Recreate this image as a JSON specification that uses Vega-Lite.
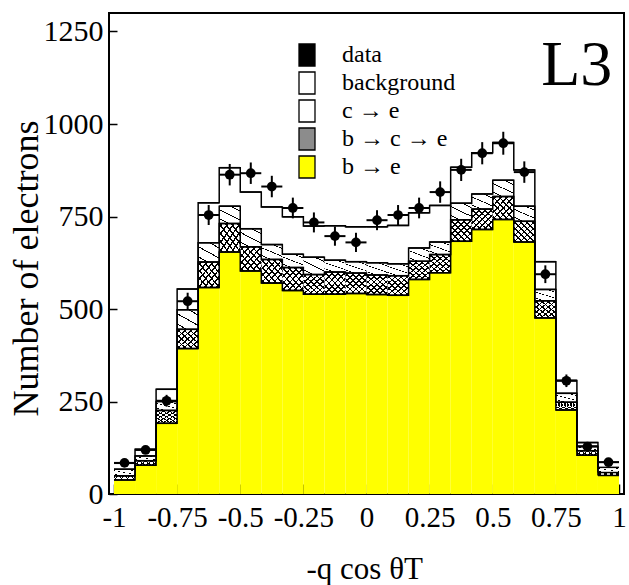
{
  "$schema": "https://vega.github.io/schema/vega-lite/v6.json",
  "width": 515,
  "height": 481,
  "autosize": "none",
  "padding": {"left": 109, "top": 13, "right": 5, "bottom": 91},
  "background": "white",
  "config": {
    "view": {"stroke": "black", "strokeWidth": 2},
    "font": "Liberation Serif",
    "axis": {"labelColor": "black", "tickColor": "black", "titleColor": "black", "labelFont": "Liberation Serif", "titleFont": "Liberation Serif", "titleFontWeight": "normal", "grid": false, "domain": false}
  },
  "title": {"text": "L3", "anchor": "end", "orient": "top", "offset": -85, "dx": -14, "fontSize": 64, "font": "Liberation Serif", "fontWeight": "normal", "color": "black"},
  "data": {"values": [
    {"x0": -1, "x1": -0.9167, "xc": -0.9583, "be": 38, "bce": 49, "ce": 67, "tot": 83, "data": 84, "lo": 75, "hi": 93},
    {"x0": -0.9167, "x1": -0.8333, "xc": -0.875, "be": 78, "bce": 90, "ce": 103, "tot": 121, "data": 119, "lo": 108, "hi": 130},
    {"x0": -0.8333, "x1": -0.75, "xc": -0.7917, "be": 191, "bce": 226, "ce": 250, "tot": 283, "data": 252, "lo": 236, "hi": 268},
    {"x0": -0.75, "x1": -0.6667, "xc": -0.7083, "be": 393, "bce": 445, "ce": 498, "tot": 554, "data": 521, "lo": 498, "hi": 544},
    {"x0": -0.6667, "x1": -0.5833, "xc": -0.625, "be": 558, "bce": 627, "ce": 679, "tot": 787, "data": 754, "lo": 727, "hi": 781},
    {"x0": -0.5833, "x1": -0.5, "xc": -0.5417, "be": 654, "bce": 731, "ce": 778, "tot": 882, "data": 863, "lo": 834, "hi": 892},
    {"x0": -0.5, "x1": -0.4167, "xc": -0.4583, "be": 603, "bce": 668, "ce": 717, "tot": 816, "data": 867, "lo": 838, "hi": 896},
    {"x0": -0.4167, "x1": -0.3333, "xc": -0.375, "be": 570, "bce": 634, "ce": 674, "tot": 776, "data": 831, "lo": 802, "hi": 860},
    {"x0": -0.3333, "x1": -0.25, "xc": -0.2917, "be": 550, "bce": 612, "ce": 648, "tot": 749, "data": 773, "lo": 745, "hi": 801},
    {"x0": -0.25, "x1": -0.1667, "xc": -0.2083, "be": 540, "bce": 593, "ce": 640, "tot": 724, "data": 734, "lo": 707, "hi": 761},
    {"x0": -0.1667, "x1": -0.0833, "xc": -0.125, "be": 540, "bce": 600, "ce": 632, "tot": 725, "data": 697, "lo": 671, "hi": 723},
    {"x0": -0.0833, "x1": 0, "xc": -0.0417, "be": 542, "bce": 597, "ce": 628, "tot": 722, "data": 680, "lo": 654, "hi": 706},
    {"x0": 0, "x1": 0.0833, "xc": 0.0417, "be": 539, "bce": 592, "ce": 625, "tot": 722, "data": 740, "lo": 713, "hi": 767},
    {"x0": 0.0833, "x1": 0.1667, "xc": 0.125, "be": 537, "bce": 590, "ce": 622, "tot": 726, "data": 754, "lo": 727, "hi": 781},
    {"x0": 0.1667, "x1": 0.25, "xc": 0.2083, "be": 580, "bce": 629, "ce": 665, "tot": 760, "data": 773, "lo": 745, "hi": 801},
    {"x0": 0.25, "x1": 0.3333, "xc": 0.2917, "be": 598, "bce": 647, "ce": 681, "tot": 780, "data": 816, "lo": 787, "hi": 845},
    {"x0": 0.3333, "x1": 0.4167, "xc": 0.375, "be": 683, "bce": 741, "ce": 786, "tot": 883, "data": 876, "lo": 846, "hi": 906},
    {"x0": 0.4167, "x1": 0.5, "xc": 0.4583, "be": 715, "bce": 770, "ce": 811, "tot": 922, "data": 921, "lo": 891, "hi": 951},
    {"x0": 0.5, "x1": 0.5833, "xc": 0.5417, "be": 742, "bce": 804, "ce": 848, "tot": 950, "data": 948, "lo": 917, "hi": 979},
    {"x0": 0.5833, "x1": 0.6667, "xc": 0.625, "be": 681, "bce": 737, "ce": 778, "tot": 876, "data": 870, "lo": 841, "hi": 899},
    {"x0": 0.6667, "x1": 0.75, "xc": 0.7083, "be": 476, "bce": 522, "ce": 553, "tot": 628, "data": 594, "lo": 570, "hi": 618},
    {"x0": 0.75, "x1": 0.8333, "xc": 0.7917, "be": 227, "bce": 248, "ce": 272, "tot": 307, "data": 306, "lo": 289, "hi": 323},
    {"x0": 0.8333, "x1": 0.9167, "xc": 0.875, "be": 105, "bce": 117, "ce": 129, "tot": 139, "data": 128, "lo": 117, "hi": 139},
    {"x0": 0.9167, "x1": 1, "xc": 0.9583, "be": 50, "bce": 58, "ce": 72, "tot": 86, "data": 86, "lo": 77, "hi": 95}
  ]},
  "layer": [
    {
      "transform": [{"fold": ["be"], "as": ["comp", "val"]}],
      "mark": {"type": "bar", "orient": "vertical"},
      "encoding": {
        "x": {"field": "x0", "type": "quantitative", "scale": {"domain": [-1, 1], "nice": false, "zero": false},
          "axis": {"values": [-1, -0.75, -0.5, -0.25, 0, 0.25, 0.5, 0.75, 1], "labelExpr": "datum.value + ''", "labelFontSize": 29, "labelFlush": false, "labelOverlap": false, "tickSize": -10, "tickWidth": 1.5, "labelPadding": 19,
            "title": "-q cos θT", "titleFontSize": 31, "titleX": 197, "titleY": 84, "titleAlign": "left", "titleBaseline": "alphabetic"}},
        "x2": {"field": "x1"},
        "y": {"field": "val", "type": "quantitative", "scale": {"domain": [0, 1300], "nice": false},
          "axis": {"values": [0, 250, 500, 750, 1000, 1250], "labelExpr": "datum.value + ''", "labelFontSize": 30, "tickSize": -8, "tickWidth": 1.5, "labelPadding": 14,
            "title": "Number of electrons", "titleFontSize": 36, "titleX": -72, "titleY": 255, "titleBaseline": "alphabetic"}},
        "color": {"field": "comp", "type": "nominal",
          "scale": {"domain": ["data", "background", "c → e", "b → c → e", "be"], "range": ["black", "white", "white", "#8c8c8c", "#ffff00"]},
          "legend": {"orient": "none", "legendX": 186, "legendY": 30, "title": null, "labelFont": "Liberation Serif", "labelFontSize": 24, "labelColor": "black", "labelOffset": 23,
            "labelExpr": "datum.label == 'be' ? 'b → e' : datum.label",
            "symbolType": "M-0.727,-1L0.727,-1L0.727,1L-0.727,1Z", "symbolSize": 484, "symbolStrokeColor": "black", "symbolStrokeWidth": 1.3, "rowPadding": 0}}
      }
    },
    {
      "mark": {"type": "bar", "fill": {"gradient": "linear", "x1": 0, "y1": 0, "x2": 1, "y2": 1, "stops": [
        {"offset": 0, "color": "#fff"},
        {"offset": 0.051, "color": "#fff"}, {"offset": 0.051, "color": "#000"}, {"offset": 0.091, "color": "#000"}, {"offset": 0.091, "color": "#fff"},
        {"offset": 0.194, "color": "#fff"}, {"offset": 0.194, "color": "#000"}, {"offset": 0.234, "color": "#000"}, {"offset": 0.234, "color": "#fff"},
        {"offset": 0.337, "color": "#fff"}, {"offset": 0.337, "color": "#000"}, {"offset": 0.377, "color": "#000"}, {"offset": 0.377, "color": "#fff"},
        {"offset": 0.48, "color": "#fff"}, {"offset": 0.48, "color": "#000"}, {"offset": 0.52, "color": "#000"}, {"offset": 0.52, "color": "#fff"},
        {"offset": 0.623, "color": "#fff"}, {"offset": 0.623, "color": "#000"}, {"offset": 0.663, "color": "#000"}, {"offset": 0.663, "color": "#fff"},
        {"offset": 0.766, "color": "#fff"}, {"offset": 0.766, "color": "#000"}, {"offset": 0.806, "color": "#000"}, {"offset": 0.806, "color": "#fff"},
        {"offset": 0.909, "color": "#fff"}, {"offset": 0.909, "color": "#000"}, {"offset": 0.949, "color": "#000"}, {"offset": 0.949, "color": "#fff"},
        {"offset": 1, "color": "#fff"}]}},
      "encoding": {
        "x": {"field": "x0", "type": "quantitative", "scale": {"domain": [-1, 1], "nice": false, "zero": false}},
        "x2": {"field": "x1"},
        "y": {"field": "be", "type": "quantitative", "scale": {"domain": [0, 1300], "nice": false}},
        "y2": {"field": "bce"}
      }
    },
    {
      "mark": {"type": "bar", "fill": {"gradient": "linear", "x1": 1, "y1": 0, "x2": 0, "y2": 1, "stops": [
        {"offset": 0, "color": "rgba(0,0,0,0)"},
        {"offset": 0.051, "color": "rgba(0,0,0,0)"}, {"offset": 0.051, "color": "#000"}, {"offset": 0.091, "color": "#000"}, {"offset": 0.091, "color": "rgba(0,0,0,0)"},
        {"offset": 0.194, "color": "rgba(0,0,0,0)"}, {"offset": 0.194, "color": "#000"}, {"offset": 0.234, "color": "#000"}, {"offset": 0.234, "color": "rgba(0,0,0,0)"},
        {"offset": 0.337, "color": "rgba(0,0,0,0)"}, {"offset": 0.337, "color": "#000"}, {"offset": 0.377, "color": "#000"}, {"offset": 0.377, "color": "rgba(0,0,0,0)"},
        {"offset": 0.48, "color": "rgba(0,0,0,0)"}, {"offset": 0.48, "color": "#000"}, {"offset": 0.52, "color": "#000"}, {"offset": 0.52, "color": "rgba(0,0,0,0)"},
        {"offset": 0.623, "color": "rgba(0,0,0,0)"}, {"offset": 0.623, "color": "#000"}, {"offset": 0.663, "color": "#000"}, {"offset": 0.663, "color": "rgba(0,0,0,0)"},
        {"offset": 0.766, "color": "rgba(0,0,0,0)"}, {"offset": 0.766, "color": "#000"}, {"offset": 0.806, "color": "#000"}, {"offset": 0.806, "color": "rgba(0,0,0,0)"},
        {"offset": 0.909, "color": "rgba(0,0,0,0)"}, {"offset": 0.909, "color": "#000"}, {"offset": 0.949, "color": "#000"}, {"offset": 0.949, "color": "rgba(0,0,0,0)"},
        {"offset": 1, "color": "rgba(0,0,0,0)"}]}},
      "encoding": {
        "x": {"field": "x0", "type": "quantitative", "scale": {"domain": [-1, 1], "nice": false, "zero": false}},
        "x2": {"field": "x1"},
        "y": {"field": "be", "type": "quantitative", "scale": {"domain": [0, 1300], "nice": false}},
        "y2": {"field": "bce"}
      }
    },
    {
      "mark": {"type": "bar", "fill": {"gradient": "linear", "x1": 1, "y1": 0, "x2": 0.294, "y2": 1.176, "stops": [
        {"offset": 0, "color": "#fff"}, {"offset": 0.152, "color": "#fff"}, {"offset": 0.152, "color": "#000"}, {"offset": 0.188, "color": "#000"}, {"offset": 0.188, "color": "#fff"},
        {"offset": 0.482, "color": "#fff"}, {"offset": 0.482, "color": "#000"}, {"offset": 0.518, "color": "#000"}, {"offset": 0.518, "color": "#fff"},
        {"offset": 0.812, "color": "#fff"}, {"offset": 0.812, "color": "#000"}, {"offset": 0.848, "color": "#000"}, {"offset": 0.848, "color": "#fff"}, {"offset": 1, "color": "#fff"}]}},
      "encoding": {
        "x": {"field": "x0", "type": "quantitative", "scale": {"domain": [-1, 1], "nice": false, "zero": false}},
        "x2": {"field": "x1"},
        "y": {"field": "bce", "type": "quantitative", "scale": {"domain": [0, 1300], "nice": false}},
        "y2": {"field": "ce"}
      }
    },
    {
      "transform": [{"fold": ["be", "bce", "ce", "tot"], "as": ["comp", "val"]}],
      "mark": {"type": "line", "interpolate": "step-after", "color": "black", "strokeWidth": 1.5},
      "encoding": {
        "x": {"field": "x0", "type": "quantitative", "scale": {"domain": [-1, 1], "nice": false, "zero": false}},
        "y": {"field": "val", "type": "quantitative", "scale": {"domain": [0, 1300], "nice": false}},
        "detail": {"field": "comp"}
      }
    },
    {
      "transform": [{"fold": ["be", "bce", "ce", "tot"], "as": ["comp", "val"]}],
      "mark": {"type": "rule", "color": "black", "strokeWidth": 1.5},
      "encoding": {
        "x": {"field": "x0", "type": "quantitative", "scale": {"domain": [-1, 1], "nice": false, "zero": false}},
        "x2": {"field": "x1"},
        "y": {"field": "val", "type": "quantitative", "scale": {"domain": [0, 1300], "nice": false}}
      }
    },
    {
      "mark": {"type": "rule", "color": "black", "strokeWidth": 2},
      "encoding": {
        "x": {"field": "xc", "type": "quantitative", "scale": {"domain": [-1, 1], "nice": false, "zero": false}},
        "y": {"field": "lo", "type": "quantitative", "scale": {"domain": [0, 1300], "nice": false}},
        "y2": {"field": "hi"}
      }
    },
    {
      "mark": {"type": "rule", "color": "black", "strokeWidth": 2},
      "encoding": {
        "x": {"field": "x0", "type": "quantitative", "scale": {"domain": [-1, 1], "nice": false, "zero": false}},
        "x2": {"field": "x1"},
        "y": {"field": "data", "type": "quantitative", "scale": {"domain": [0, 1300], "nice": false}}
      }
    },
    {
      "mark": {"type": "point", "filled": true, "color": "black", "size": 95, "opacity": 1},
      "encoding": {
        "x": {"field": "xc", "type": "quantitative", "scale": {"domain": [-1, 1], "nice": false, "zero": false}},
        "y": {"field": "data", "type": "quantitative", "scale": {"domain": [0, 1300], "nice": false}}
      }
    }
  ]
}
